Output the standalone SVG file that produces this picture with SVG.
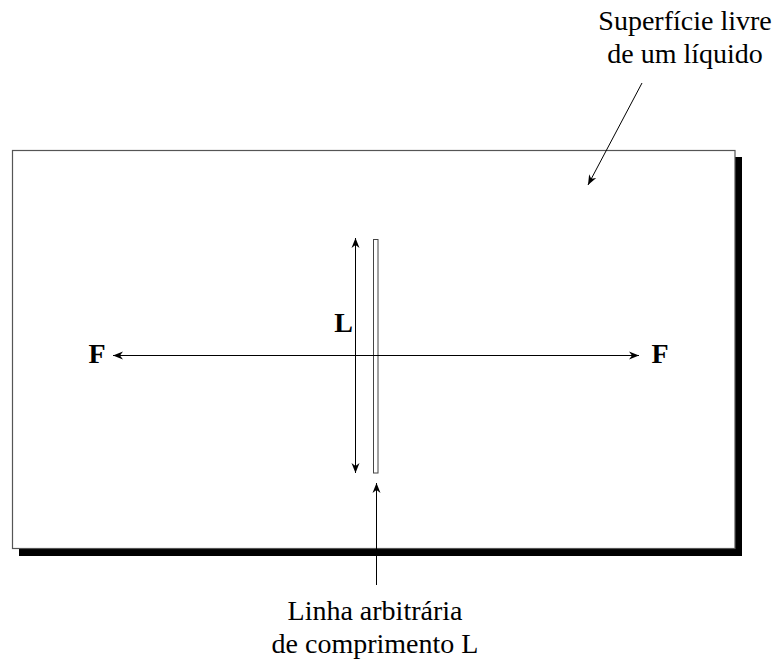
<svg xmlns="http://www.w3.org/2000/svg" width="775" height="660" viewBox="0 0 775 660">
<style>
  .ln { stroke: #000; stroke-width: 1; fill: none; }
  .lbl { font-family: "Liberation Serif", "Times New Roman", serif; font-size: 28px; fill: #000; text-anchor: middle; }
  .bold { font-weight: bold; }
</style>
<defs>
  <marker id="ah" viewBox="0 0 10 10" refX="10" refY="5" markerWidth="10" markerHeight="10" markerUnits="userSpaceOnUse" orient="auto-start-reverse">
    <path d="M0,1 L10,5 L0,9 L3,5 Z" fill="#000"/>
  </marker>
</defs>
<g id="surface">
  <rect x="19" y="157" width="723" height="399" fill="#000"/>
  <rect x="12.5" y="150.5" width="722.5" height="398" fill="#fff" stroke="#555" stroke-width="1.2"/>
</g>
<g id="line-L">
  <rect x="373.5" y="239.5" width="4.5" height="233.5" fill="#fff" stroke="#444" stroke-width="1"/>
</g>
<g id="connectors">
  <line class="ln" x1="113" y1="355.5" x2="639" y2="355.5" marker-start="url(#ah)" marker-end="url(#ah)"/>
  <line class="ln" x1="355.5" y1="238" x2="355.5" y2="473" marker-start="url(#ah)" marker-end="url(#ah)"/>
  <line class="ln" x1="376.5" y1="585" x2="376.5" y2="483" marker-end="url(#ah)"/>
  <line class="ln" x1="642" y1="83" x2="588" y2="185" marker-end="url(#ah)"/>
</g>
<g id="labels">
  <text class="lbl bold" x="97" y="363">F</text>
  <text class="lbl bold" x="660" y="363">F</text>
  <text class="lbl bold" x="343.5" y="332">L</text>
  <text class="lbl" x="685" y="30">Superfície livre</text>
  <text class="lbl" x="685" y="63">de um líquido</text>
  <text class="lbl" x="375" y="620">Linha arbitrária</text>
  <text class="lbl" x="375" y="653">de comprimento L</text>
</g>
</svg>
